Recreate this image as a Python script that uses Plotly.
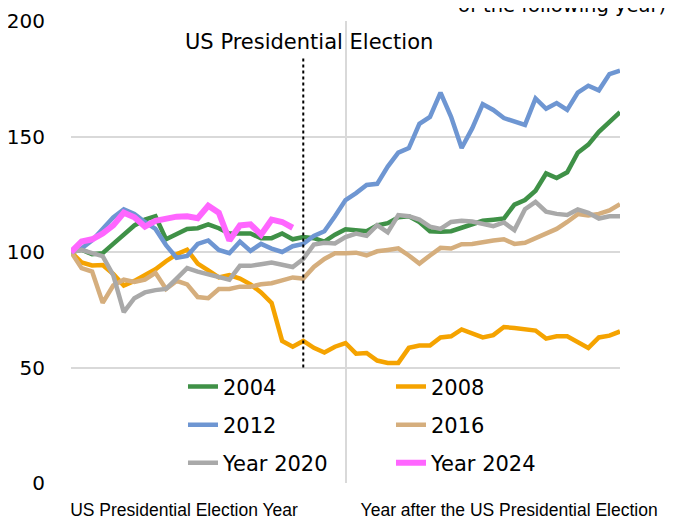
import plotly.graph_objects as go

# x positions: weeks from the start of the US presidential election year (2-week steps)
weeks = list(range(0, 105, 2))
weeks_2024 = weeks[:22]

series_names = ["2004", "2008", "2012", "2016", "Year 2020", "Year 2024"]
series_colors = ["#3F9147", "#F5A300", "#6E96D2", "#D5AE7D", "#A9A9A9", "#FF66FF"]

v2004 = [100, 101, 99, 99.5, 103.5, 107.5, 111.5, 114, 115.5, 105.5, 107.5, 110, 110.3, 112,
         110.3, 108, 108, 108, 106, 106, 108, 105.5, 106.5,
         106, 104.5, 107.5, 109.8, 109.5, 109, 111.5, 112.5, 115, 115.5, 113, 109, 108.8, 109,
         110.5, 112, 113.5, 114, 114.5, 120.5, 122.5, 126.5, 134, 132, 134.5, 143, 146.5, 152,
         156, 160.5]
v2008 = [100, 95.5, 94.2, 94.4, 90.5, 85.5, 87.5, 90, 92.5, 96, 99, 101, 95, 92, 89, 90, 88.5,
         86, 82.5, 78, 61.5, 59, 61.5,
         58.5, 56.5, 59, 60.6, 56, 56.3, 53, 52, 52, 58.5, 59.5, 59.5, 63, 63.5, 66.5, 65, 63,
         64, 67.5, 67.1, 66.5, 66, 62.5, 63.5, 63.5, 61, 58.5, 63, 63.8, 65.6]
v2012 = [100, 101.5, 105, 110, 115, 118.5, 116.5, 113, 110, 103, 97.5, 98.3, 103.5, 105, 100.9,
         99.5, 104.5, 100.5, 103.5, 101.5, 100, 102.5, 103.5,
         107, 109, 115.5, 122.5, 125.5, 129, 129.5, 137, 143, 145, 155.5, 158.5, 169, 158.5,
         145, 153.5, 164, 161.5, 158, 156.6, 155, 166.5, 162, 164.5, 161.5, 169, 172, 170,
         177, 178.5]
v2016 = [100, 93, 91.5, 78, 85.5, 88, 87, 88, 91, 84, 87.5, 86, 80.5, 80, 84, 84, 85, 85, 86,
         86.5, 87.7, 89, 88.5,
         93.5, 97, 99.5, 99.5, 99.7, 98.5, 100.3, 100.9, 101.6, 98.5, 95, 98.5, 101.8, 101.5,
         103.4, 103.5, 104.4, 105, 105.5, 103.5, 104, 106, 108.5, 110, 113, 116.4, 115.8,
         116.5, 118, 120.7]
v2020 = [100, 100.9, 99.5, 98.2, 90, 74, 80, 82.5, 83.5, 84, 88.5, 93, 91.5, 90.5, 89.5, 88,
         94, 94, 94.7, 95.4, 94.5, 93.5, 97,
         103.2, 104, 103.7, 106.5, 108, 107, 111.6, 108.5, 116, 115.5, 114, 111, 110, 113,
         113.5, 113.2, 112, 111.2, 112.8, 109.5, 118.5, 121.7, 117.5, 116.5, 116, 118.4, 117,
         114.5, 115.5, 115.5]
v2024 = [100, 104.5, 105.5, 108, 111.5, 117, 115, 111, 113.5, 114.5, 115.3, 115.5, 114.6, 120,
         117, 105, 111.5, 112, 107.5, 114, 113, 110.5]

series_values = [v2004, v2008, v2012, v2016, v2020, v2024]
series_x = [weeks, weeks, weeks, weeks, weeks, weeks_2024]
line_widths = [4.5, 4.5, 4.5, 4.5, 4.5, 6]
legend_ids = ["legend", "legend", "legend2", "legend2", "legend3", "legend3"]

x_label_pos = [21.4, 83.0]
x_labels = ["US Presidential Election Year", "Year after the US Presidential Election"]
year_bounds = [0, 52, 104]
y_ticks = [0, 50, 100, 150, 200]
election_week = 44

MAIN_FONT = "DejaVu Sans"
MAIN_SIZE = 21

fig = go.Figure()
for name, xs, ys, col, lw, lg in zip(series_names, series_x, series_values, series_colors,
                                     line_widths, legend_ids):
    fig.add_trace(go.Scatter(x=xs, y=ys, mode="lines", name=name, legend=lg,
                             line=dict(color=col, width=lw)))

# election marker
fig.add_shape(type="line", x0=election_week, x1=election_week, y0=50, y1=184,
              xref="x", yref="y", line=dict(color="black", width=2, dash="dot"))
fig.add_annotation(x=45.1, y=190.9, xref="x", yref="y", text="US Presidential Election",
                   showarrow=False, font=dict(family=MAIN_FONT, size=MAIN_SIZE, color="black"))
fig.add_annotation(x=1.0874, y=1.0043, xref="paper", yref="paper", xanchor="right",
                   yanchor="bottom", text="of the following year)", showarrow=False,
                   font=dict(family=MAIN_FONT, size=19.5, color="black"))

legend_common = dict(orientation="h", xanchor="left", yanchor="middle",
                     bgcolor="rgba(0,0,0,0)", borderwidth=0, entrywidth=163,
                     font=dict(family=MAIN_FONT, size=MAIN_SIZE, color="black"))
fig.update_layout(
    width=668, height=513,
    margin=dict(l=63, r=56, t=13, b=38),
    paper_bgcolor="white", plot_bgcolor="white",
    showlegend=True,
    legend=dict(x=0.204, y=0.208, **legend_common),
    legend2=dict(x=0.204, y=0.1255, **legend_common),
    legend3=dict(x=0.204, y=0.043, **legend_common),
    xaxis=dict(range=[0, 104], tickmode="array", tickvals=x_label_pos, ticktext=x_labels,
               showgrid=False, zeroline=False, showline=False, ticks="",
               ticklabelstandoff=14, automargin=False,
               tickfont=dict(family="Liberation Sans", size=17.5, color="black"),
               minor=dict(tickmode="array", tickvals=year_bounds, showgrid=True,
                          gridcolor="#D9D9D9", gridwidth=1.5)),
    yaxis=dict(range=[0, 200], tickmode="array", tickvals=y_ticks, showgrid=True,
               gridcolor="#D9D9D9", gridwidth=1.5, zeroline=False, showline=False,
               ticklabelstandoff=25, automargin=False,
               tickfont=dict(family=MAIN_FONT, size=20, color="black")),
)

fig.write_html("out.html")
